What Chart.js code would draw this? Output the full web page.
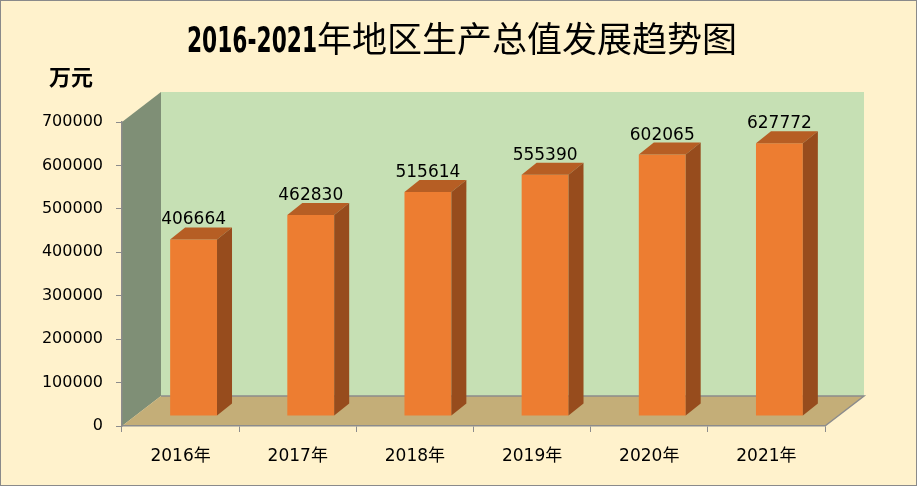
<!DOCTYPE html>
<html>
<head>
<meta charset="utf-8">
<script src="https://cdn.jsdelivr.net/npm/chart.js@4/dist/chart.umd.min.js"></script>
<style>
  html, body { margin: 0; padding: 0; background: #FFF2CC; }
  #wrap { width: 917px; height: 486px; }
</style>
</head>
<body>
<div id="wrap"><canvas id="gdpChart" width="917" height="486"></canvas></div>
<script>
// data
const years = ['2016年', '2017年', '2018年', '2019年', '2020年', '2021年'];
const gdpValues = [406664, 462830, 515614, 555390, 602065, 627772];
const yMax = 700000;
const yStep = 100000;
const titleNum = '2016-2021';
const titleText = '年地区生产总值发展趋势图';
const unitText = '万元';

// 3d look
const WALL_DX = 39, WALL_DY = -30;
const BAR_SHIFT_X = 13, BAR_SHIFT_Y = -10;
const BAR_DX = 15, BAR_DY = -12;
const labelFont = '17px "DejaVu Sans"';

const threeD = {
  id: 'threeD',
  beforeDraw(chart) {
    const c = chart.ctx;
    const a = chart.chartArea;
    c.save();
    c.fillStyle = '#FFF2CC';
    c.fillRect(0, 0, chart.width, chart.height);
    c.strokeStyle = '#8a8a8a';
    c.lineWidth = 1;
    c.strokeRect(0.5, 0.5, chart.width - 1, chart.height - 1);

    // back wall
    c.fillStyle = '#C6E0B4';
    c.fillRect(a.left + WALL_DX, a.top + WALL_DY, a.right - a.left, a.bottom - a.top);
    // side wall
    c.fillStyle = '#7F8F76';
    c.beginPath();
    c.moveTo(a.left, a.top);
    c.lineTo(a.left + WALL_DX, a.top + WALL_DY);
    c.lineTo(a.left + WALL_DX, a.bottom + WALL_DY);
    c.lineTo(a.left, a.bottom);
    c.closePath();
    c.fill();
    // floor
    c.fillStyle = '#C4AE78';
    c.beginPath();
    c.moveTo(a.left, a.bottom);
    c.lineTo(a.left + WALL_DX, a.bottom + WALL_DY);
    c.lineTo(a.right + WALL_DX, a.bottom + WALL_DY);
    c.lineTo(a.right, a.bottom);
    c.closePath();
    c.fill();
    c.strokeStyle = '#8c8c8c';
    c.lineWidth = 1.5;
    c.beginPath();
    c.moveTo(a.left + WALL_DX, a.bottom + WALL_DY);
    c.lineTo(a.right + WALL_DX, a.bottom + WALL_DY);
    c.lineTo(a.right, a.bottom);
    c.stroke();

    // title: narrow bold digits + cjk text
    c.textBaseline = 'alphabetic';
    c.textAlign = 'left';
    c.fillStyle = '#000';
    const f1 = 'bold 35px "DejaVu Sans Condensed", "Liberation Sans", sans-serif';
    const f2 = '35px "Noto Sans CJK SC"';
    c.font = f1;
    const w1raw = c.measureText(titleNum).width;
    const w1 = 130;
    c.font = f2;
    const w2 = c.measureText(titleText).width;
    const x = 462 - (w1 + w2) / 2;
    c.save();
    c.translate(x, 52);
    c.scale(w1 / w1raw, 1);
    c.font = f1;
    c.fillText(titleNum, 0, 0);
    c.restore();
    c.font = f2;
    c.fillText(titleText, x + w1, 52);

    // unit
    c.font = 'bold 22px "Noto Sans CJK SC"';
    c.textAlign = 'center';
    c.textBaseline = 'middle';
    c.fillText(unitText, 71, 77);
    c.restore();
  },
  beforeDatasetsDraw(chart) {
    chart.ctx.save();
    chart.ctx.translate(BAR_SHIFT_X, BAR_SHIFT_Y);
  },
  afterDatasetsDraw(chart) {
    const c = chart.ctx;
    const meta = chart.getDatasetMeta(0);
    meta.data.forEach((bar, i) => {
      const x0 = bar.x - bar.width / 2;
      const x1 = bar.x + bar.width / 2;
      // top face
      c.fillStyle = '#B65E24';
      c.beginPath();
      c.moveTo(x0, bar.y);
      c.lineTo(x0 + BAR_DX, bar.y + BAR_DY);
      c.lineTo(x1 + BAR_DX, bar.y + BAR_DY);
      c.lineTo(x1, bar.y);
      c.closePath();
      c.fill();
      // side face
      c.fillStyle = '#974C1D';
      c.beginPath();
      c.moveTo(x1, bar.y);
      c.lineTo(x1 + BAR_DX, bar.y + BAR_DY);
      c.lineTo(x1 + BAR_DX, bar.base + BAR_DY);
      c.lineTo(x1, bar.base);
      c.closePath();
      c.fill();
      // value label
      c.fillStyle = '#000';
      c.font = labelFont;
      c.textAlign = 'center';
      c.textBaseline = 'alphabetic';
      c.fillText(String(gdpValues[i]), bar.x, bar.y + BAR_DY - 3);
    });
    c.restore();
  }
};

const ctx = document.getElementById('gdpChart').getContext('2d');

const gdpChart = new Chart(ctx, {
  type: 'bar',
  data: {
    labels: years,
    datasets: [{
      data: gdpValues,
      backgroundColor: '#ED7D31',
      borderWidth: 0,
      barPercentage: 0.4,
      categoryPercentage: 1
    }]
  },
  options: {
    responsive: false,
    animation: false,
    devicePixelRatio: 1,
    layout: { padding: { top: 122, left: 0, right: 92, bottom: 0 } },
    plugins: {
      legend: { display: false },
      title: { display: false },
      tooltip: { enabled: false }
    },
    scales: {
      x: {
        afterFit(scale) { scale.height = 60; },
        grid: { drawOnChartArea: false, drawTicks: true, tickLength: 6, color: '#8c8c8c' },
        border: { display: true, color: '#8c8c8c', width: 1.5 },
        ticks: { color: '#000', padding: 14, font: { family: '"DejaVu Sans", "Noto Sans CJK SC"', size: 17 } }
      },
      y: {
        min: 0,
        max: yMax,
        afterFit(scale) { scale.width = 122; },
        grid: { drawOnChartArea: false, drawTicks: true, tickLength: 6, color: '#8c8c8c' },
        border: { display: true, color: '#8c8c8c', width: 1.5 },
        ticks: {
          stepSize: yStep,
          color: '#000',
          padding: 13,
          font: { family: '"DejaVu Sans"', size: 16 },
          callback: (v) => String(v)
        }
      }
    }
  },
  plugins: [threeD]
});
</script>
</body>
</html>
